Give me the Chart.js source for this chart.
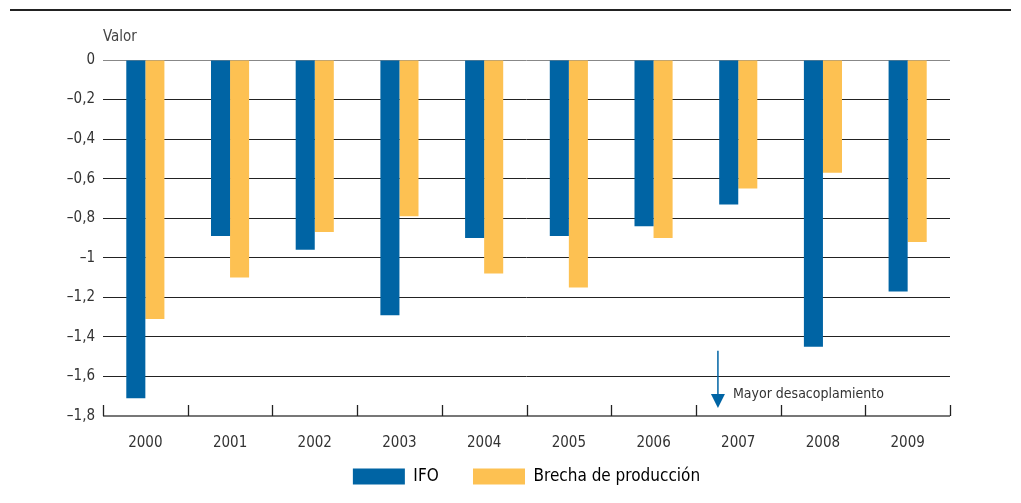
<!DOCTYPE html>
<html>
<head>
<meta charset="utf-8">
<script src="https://cdn.jsdelivr.net/npm/chart.js@4"></script>
<style>
    html, body { margin: 0; padding: 0; background: #fff; }
    #wrap { width: 1021px; height: 503px; position: relative; }
</style>
</head>
<body>
<div id="wrap"><canvas id="chart"></canvas></div>
<script>
// datos del gráfico
const years = ['2000', '2001', '2002', '2003', '2004', '2005', '2006', '2007', '2008', '2009'];
const ifo = [-1.71, -0.89, -0.96, -1.29, -0.90, -0.89, -0.84, -0.73, -1.45, -1.17];
const brecha = [-1.31, -1.10, -0.87, -0.79, -1.08, -1.15, -0.90, -0.65, -0.57, -0.92];
const yTicks = [0, -0.2, -0.4, -0.6, -0.8, -1, -1.2, -1.4, -1.6, -1.8];
const seriesNames = ['IFO', 'Brecha de producción'];
const noteText = 'Mayor desacoplamiento';
const noteIndex = 7;

const FONT = '"Liberation Sans Narrow", "DejaVu Sans Condensed", "Roboto", sans-serif';

function fmt(v) {
    if (v === 0) return '0';
    return (v < 0 ? '\u2013' : '') + String(Math.abs(Math.round(v * 10) / 10)).replace('.', ',');
}

// líneas extra: raya superior, eje inferior, marcas, título y nota
const extras = {
    id: 'extras',
    afterLayout(chart) {
        // la leyenda va centrada bajo el área del gráfico, no bajo todo el lienzo
        const lg = chart.legend;
        const shift = (chart.chartArea.left + chart.chartArea.right) / 2 - (lg.left + lg.right) / 2;
        lg.left += shift;
        lg.right += shift;
    },
    afterDraw(chart) {
        const ctx = chart.ctx;
        const x = chart.scales.x;
        const y = chart.scales.y;
        const area = chart.chartArea;
        ctx.save();

        // raya superior
        ctx.strokeStyle = '#222';
        ctx.lineWidth = 2;
        ctx.beginPath();
        ctx.moveTo(10, 10);
        ctx.lineTo(1011, 10);
        ctx.stroke();

        // eje inferior
        const yb = y.getPixelForValue(-1.8);
        ctx.strokeStyle = '#777';
        ctx.lineWidth = 2;
        ctx.beginPath();
        ctx.moveTo(area.left, yb);
        ctx.lineTo(area.right, yb);
        ctx.stroke();

        // marcas entre categorías
        const step = (area.right - area.left) / years.length;
        ctx.strokeStyle = '#222';
        ctx.lineWidth = 1.3;
        for (let i = 0; i <= years.length; i++) {
            const px = Math.round(area.left + step * i) + 0.5;
            ctx.beginPath();
            ctx.moveTo(px, yb - 11);
            ctx.lineTo(px, yb);
            ctx.stroke();
        }

        // título del eje
        ctx.fillStyle = '#444';
        ctx.font = '15px ' + FONT;
        ctx.textAlign = 'left';
        ctx.textBaseline = 'middle';
        ctx.fillText('Valor', area.left, 37);

        // flecha de nota
        const ax = x.getPixelForValue(noteIndex) - step * 0.24;
        const y1 = y.getPixelForValue(-1.47);
        const y2 = y.getPixelForValue(-1.76);
        ctx.strokeStyle = '#0064a4';
        ctx.fillStyle = '#0064a4';
        ctx.lineWidth = 1.5;
        ctx.beginPath();
        ctx.moveTo(ax, y1);
        ctx.lineTo(ax, y2 - 10);
        ctx.stroke();
        ctx.beginPath();
        ctx.moveTo(ax - 7, y2 - 14);
        ctx.lineTo(ax + 7, y2 - 14);
        ctx.lineTo(ax, y2);
        ctx.closePath();
        ctx.fill();

        ctx.fillStyle = '#333';
        ctx.font = '14px ' + FONT;
        ctx.fillText(noteText, ax + 15, y.getPixelForValue(-1.69));
        ctx.restore();
    }
};

new Chart(document.getElementById('chart'), {
    type: 'bar',
    data: {
        labels: years,
        datasets: [{
            label: seriesNames[0],
            data: ifo,
            backgroundColor: '#0064a4',
            barPercentage: 1,
            categoryPercentage: 0.45
        }, {
            label: seriesNames[1],
            data: brecha,
            backgroundColor: '#fdc152',
            barPercentage: 1,
            categoryPercentage: 0.45
        }]
    },
    options: {
        responsive: true,
        maintainAspectRatio: false,
        animation: false,
        layout: {
            padding: { left: 0, right: 71, top: 60, bottom: 8 }
        },
        plugins: {
            legend: {
                position: 'bottom',
                labels: {
                    boxWidth: 52,
                    boxHeight: 16,
                    padding: 10,
                    color: '#333',
                    font: { family: FONT, size: 17 },
                    generateLabels(chart) {
                        return chart.data.datasets.map((ds, i) => ({
                            text: i === 0 ? ds.label + '     ' : ds.label,
                            fillStyle: ds.backgroundColor,
                            strokeStyle: ds.backgroundColor,
                            lineWidth: 0,
                            datasetIndex: i
                        }));
                    }
                }
            },
            tooltip: { enabled: false }
        },
        scales: {
            x: {
                grid: { display: false },
                border: { display: false },
                ticks: {
                    color: '#333',
                    font: { family: FONT, size: 15 },
                    padding: 10
                },
                afterFit(scale) { scale.height = 42; }
            },
            y: {
                min: -1.8,
                max: 0,
                afterBuildTicks(scale) {
                    scale.ticks = yTicks.map(v => ({ value: v }));
                },
                afterFit(scale) { scale.width = 103; },
                border: { display: false },
                grid: {
                    drawTicks: false,
                    lineWidth: 1,
                    color(c) {
                        if (c.tick && c.tick.value === 0) return '#888';
                        if (c.tick && c.tick.value === -1.8) return 'rgba(0,0,0,0)';
                        return '#222';
                    }
                },
                ticks: {
                    color: '#333',
                    font: { family: FONT, size: 15 },
                    padding: 8,
                    callback: v => fmt(v)
                }
            }
        }
    },
    plugins: [extras]
});
</script>
</body>
</html>
